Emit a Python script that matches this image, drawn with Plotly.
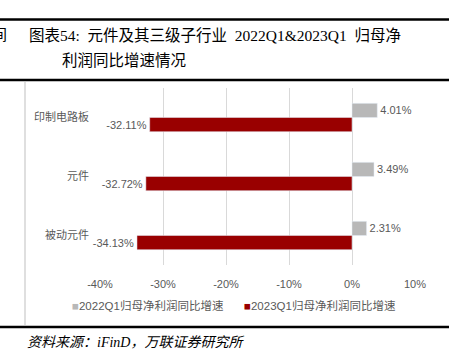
import plotly.graph_objects as go

W, H = 455, 351

categories = ["印制电路板", "元件", "被动元件"]
series_names = ["2022Q1归母净利润同比增速", "2023Q1归母净利润同比增速"]
values_2022 = [4.01, 3.49, 2.31]
values_2023 = [-32.11, -32.72, -34.13]
tick_vals = [-40, -30, -20, -10, 0, 10]
tick_text = ["-40%", "-30%", "-20%", "-10%", "0%", "10%"]

GRAY = "#b8b8b8"
RED = "#990000"
TXT = "#595959"
FONT = "Liberation Sans, Noto Sans CJK SC, sans-serif"
SERIF = "Liberation Serif, Noto Sans CJK SC, serif"
colors = [GRAY, RED]

def px(x):
    return x / W

def py(y):
    return 1 - y / H

fig = go.Figure()
for name, vals, col in zip(series_names, [values_2022, values_2023], colors):
    fig.add_trace(go.Bar(
        y=categories, x=vals, orientation="h", name=name,
        marker=dict(color=col), text=[f"{v:.2f}%" for v in vals],
        textposition="outside", textfont=dict(color=TXT, size=11, family=FONT),
        cliponaxis=False, showlegend=False,
    ))

shapes = [
    dict(type="line", xref="paper", yref="paper", x0=0, x1=px(449), y0=py(19.5), y1=py(19.5),
         line=dict(color="black", width=2.5)),
    dict(type="line", xref="paper", yref="paper", x0=0, x1=px(449), y0=py(80), y1=py(80),
         line=dict(color="black", width=2.5)),
    dict(type="line", xref="paper", yref="paper", x0=0, x1=px(449), y0=py(327), y1=py(327),
         line=dict(color="black", width=2.5)),
    dict(type="line", xref="paper", yref="paper", x0=px(25), x1=px(25), y0=py(82), y1=py(326),
         line=dict(color="#bfbfbf", width=1)),
]

annotations = [
    dict(text="间", x=px(9), y=py(35), xref="paper", yref="paper", xanchor="right", yanchor="middle",
         showarrow=False, font=dict(family=SERIF, size=15, color="black")),
    dict(text="图表54:  元件及其三级子行业  2022Q1&2023Q1  归母净", x=px(27), y=py(35),
         xref="paper", yref="paper", xanchor="left", yanchor="middle", showarrow=False,
         font=dict(family=SERIF, size=15.5, color="black")),
    dict(text="利润同比增速情况", x=px(60), y=py(60), xref="paper", yref="paper",
         xanchor="left", yanchor="middle", showarrow=False,
         font=dict(family=SERIF, size=15.5, color="black")),
    dict(text="资料来源：iFinD，万联证券研究所", x=px(25), y=py(342), xref="paper", yref="paper",
         xanchor="left", yanchor="middle", showarrow=False,
         font=dict(family=SERIF, size=14, color="black", style="italic")),
]

# legend drawn as text entries (small square + label)
for name, col, lx in zip(series_names, colors, [70, 242]):
    annotations.append(dict(
        text=f"<span style='color:{col}'>■</span>{name}", x=px(lx), y=py(305),
        xref="paper", yref="paper", xanchor="left", yanchor="middle", showarrow=False,
        font=dict(family=FONT, size=11.5, color=TXT)))

fig.update_layout(
    width=W, height=H, margin=dict(l=0, r=0, t=0, b=0, autoexpand=False),
    paper_bgcolor="white", plot_bgcolor="white",
    barmode="group", bargap=0.52, bargroupgap=0,
    showlegend=False,
    xaxis=dict(domain=[px(100), px(415)], range=[-40, 10], tickvals=tick_vals, ticktext=tick_text,
               showgrid=True, gridcolor="#d9d9d9", gridwidth=1, zeroline=True, zerolinecolor="#d9d9d9",
               zerolinewidth=1, showline=False, ticks="", automargin=False, ticklabelstandoff=11,
               tickfont=dict(family=FONT, size=11, color=TXT), fixedrange=True),
    yaxis=dict(domain=[py(265), py(88)], autorange="reversed", showgrid=False, showline=False,
               ticks="", ticklabelstandoff=10, automargin=False,
               tickfont=dict(family=FONT, size=11, color=TXT)),
    shapes=shapes, annotations=annotations,
    font=dict(family=FONT),
)

fig.write_html("out.html")
